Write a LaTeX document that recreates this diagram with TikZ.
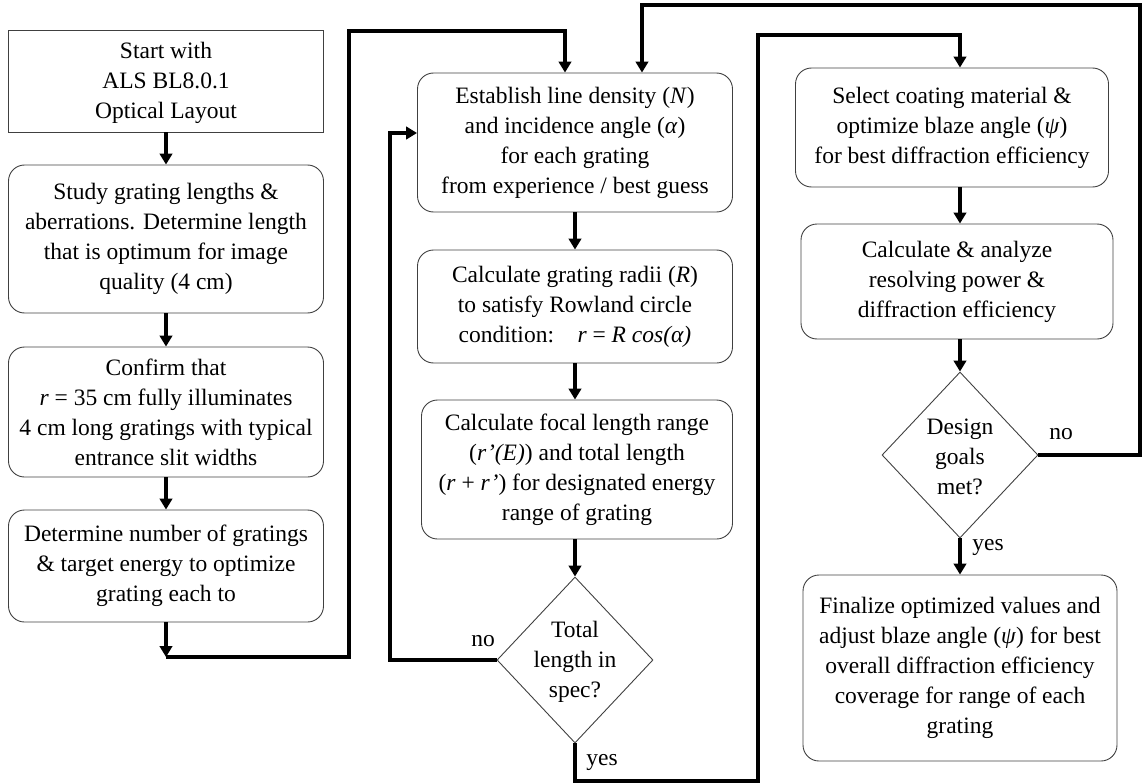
\documentclass[tikz,border=0pt]{standalone}
\usepackage{fontspec}
\setmainfont{Liberation Serif}
\usetikzlibrary{arrows.meta,shapes.geometric}
\begin{document}
\begin{tikzpicture}[x=1pt,y=-1pt,
  txt/.style={font=\fontsize{23.5}{30}\selectfont, align=center},
  box/.style={txt, draw=black!75, line width=0.9pt, rounded corners=16pt, inner sep=0pt},
  sqbox/.style={box, rounded corners=0pt},
  dec/.style={draw=black!75, line width=0.9pt, diamond, inner sep=0pt, minimum width=156pt, minimum height=166pt},
  arr/.style={line width=3.6pt, -{Triangle[length=11pt,width=12.5pt]}},
  lbl/.style={font=\fontsize{23.5}{30}\selectfont}
]
\useasboundingbox (0,0) rectangle (1144,784);

% left column
\node[sqbox, minimum width=315pt, minimum height=102pt] (b1) at (166,81) {\rule{0pt}{20pt}Start with\\ALS BL8.0.1\\Optical Layout};
\node[box, minimum width=315pt, minimum height=148pt] (b2) at (166,239) {Study grating lengths \&\\aberrations. Determine length\\that is optimum for image\\quality (4 cm)};
\node[box, minimum width=315pt, minimum height=130pt] (b3) at (166,412) {Confirm that\\\textit{r} = 35 cm fully illuminates\\4 cm long gratings with typical\\entrance slit widths};
\node[box, minimum width=315pt, minimum height=112pt] (b4) at (166,566) {Determine number of gratings\\\& target energy to optimize\\grating each to};

% middle column
\node[box, minimum width=315pt, minimum height=139pt] (b5) at (575,142.5) {Establish line density (\textit{N})\\and incidence angle (\textit{α})\\for each grating\\from experience / best guess};
\node[box, minimum width=315pt, minimum height=113pt] (b6) at (575,306.5) {Calculate grating radii (\textit{R})\\to satisfy Rowland circle\\condition:\quad \textit{r} = \textit{R cos(α)}};
\node[box, minimum width=311pt, minimum height=139pt] (b7) at (577,469.5) {Calculate focal length range\\(\textit{r’(E)}) and total length\\(\textit{r} + \textit{r’}) for designated energy\\range of grating};
\node[dec] (d1) at (575,660) {};
\node[txt] (t1) at (575,662) {Total\\length in\\spec?};

% right column
\node[box, minimum width=313pt, minimum height=119pt] (b8) at (952,127.5) {Select coating material \&\\optimize blaze angle (\textit{ψ})\\for best diffraction efficiency};
\node[box, minimum width=312pt, minimum height=115pt] (b9) at (957,281.5) {Calculate \& analyze\\resolving power \&\\diffraction efficiency};
\node[dec] (d2) at (960,455) {};
\node[txt] (t2) at (960,457) {Design\\goals\\met?};
\node[box, minimum width=314pt, minimum height=186pt] (b10) at (960,668) {Finalize optimized values and\\adjust blaze angle (\textit{ψ}) for best\\overall diffraction efficiency\\coverage for range of each\\grating};

% coordinates for routing
\coordinate (c1) at (166,657);
\coordinate (c2) at (349,31);
\coordinate (c3) at (565,31);
\coordinate (c4) at (390,133);
\coordinate (c5) at (758,781);
\coordinate (c6) at (758,35);
\coordinate (c7) at (1140,5);
\coordinate (c8) at (642,5);

% left column arrows
\draw[arr] (b1.south) -- (b2.north);
\draw[arr] (b2.south) -- (b3.north);
\draw[arr] (b3.south) -- (b4.north);
\draw[arr] (b4.south) -- (c1);
\draw[arr] (c1) -| (c2) -- (c3) -- (c3 |- b5.north);

% middle column arrows
\draw[arr] (b5.south -| d1) -- (b6.north -| d1);
\draw[arr] (b6.south -| d1) -- (b7.north -| d1);
\draw[arr] (b7.south -| d1) -- (d1.north);
\draw[arr] (d1.west) -| (c4) -- (c4 -| b5.west);
\node[lbl] (no1) at (483,641) {no};
\draw[arr] (d1.south) |- (c5) -- (c6) -- (c6 -| d2) -- (b8.north -| d2);
\node[lbl] (yes1) at (602,762) {yes};

% right column arrows
\draw[arr] (b8.south -| d2) -- (b9.north -| d2);
\draw[arr] (b9.south -| d2) -- (d2.north);
\draw[arr] (d2.south) -- (b10.north -| d2);
\node[lbl] (yes2) at (988,547) {yes};
\draw[arr] (d2.east) -| (c7) -- (c8) -- (c8 |- b5.north);
\node[lbl] (no2) at (1061,434) {no};
\end{tikzpicture}
\end{document}
